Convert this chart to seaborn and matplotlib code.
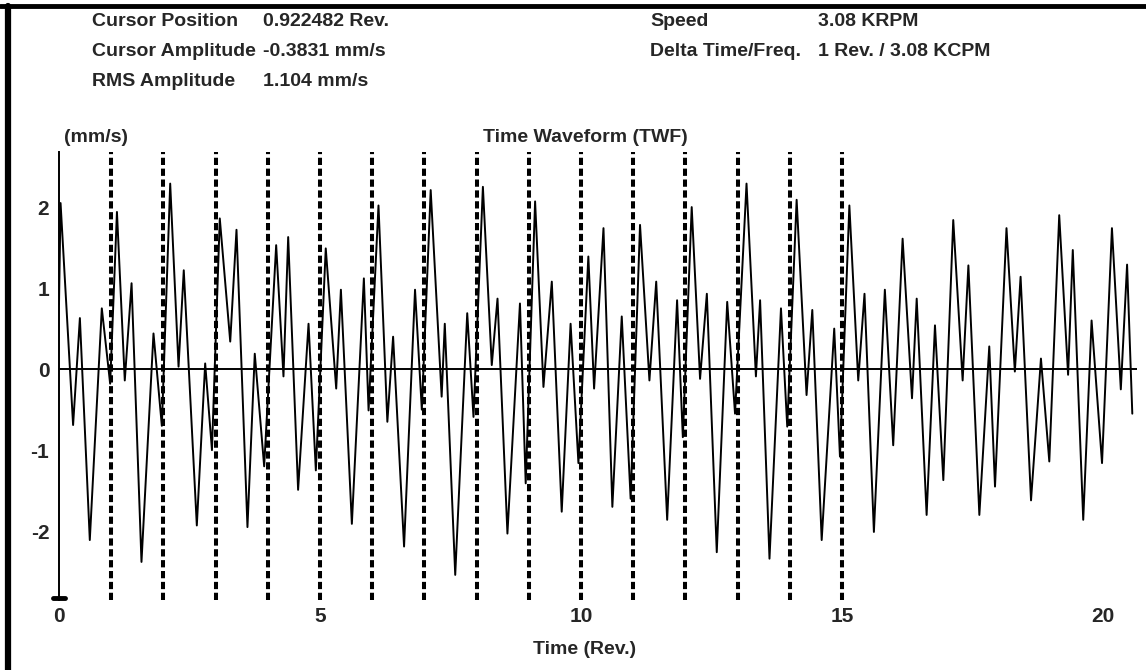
import matplotlib
matplotlib.use("Agg")
import pandas as pd
import matplotlib.pyplot as plt
import seaborn as sns
from matplotlib.lines import Line2D

# Turning points of the trace (time in rev, velocity in mm/s)
REV = [0.00, 0.03, 0.27, 0.40, 0.59, 0.82, 0.98, 1.11, 1.26, 1.39, 1.58, 1.81, 1.97,
       2.13, 2.29, 2.39, 2.64, 2.80, 2.93, 3.08, 3.28, 3.40, 3.61, 3.75, 3.93,
       4.16, 4.30, 4.39, 4.58, 4.78, 4.92, 5.11, 5.31, 5.40, 5.61, 5.84, 5.93,
       6.12, 6.29, 6.40, 6.61, 6.82, 6.95, 7.12, 7.33, 7.39, 7.59, 7.82, 7.94,
       8.12, 8.29, 8.40, 8.59, 8.83, 8.94, 9.12, 9.28, 9.44, 9.63, 9.80, 9.95,
       10.14, 10.25, 10.43, 10.60, 10.78, 10.95, 11.13, 11.31, 11.44, 11.65, 11.84, 11.95,
       12.12, 12.28, 12.41, 12.60, 12.80, 12.95, 13.17, 13.35, 13.43, 13.61, 13.83, 13.95,
       14.13, 14.32, 14.43, 14.61, 14.85, 14.96, 15.14, 15.31, 15.43, 15.61, 15.82, 15.98,
       16.16, 16.34, 16.43, 16.62, 16.78, 16.94, 17.13, 17.31, 17.42, 17.63, 17.82, 17.93,
       18.15, 18.31, 18.42, 18.62, 18.81, 18.97, 19.16, 19.33, 19.42, 19.62, 19.78, 19.98,
       20.17, 20.34, 20.46, 20.56]
VEL = [0.80, 2.05, -0.69, 0.63, -2.11, 0.75, -0.18, 1.94, -0.14, 1.06, -2.38, 0.44, -0.70,
       2.29, 0.03, 1.22, -1.93, 0.07, -1.00, 1.86, 0.34, 1.72, -1.95, 0.19, -1.20,
       1.53, -0.09, 1.63, -1.49, 0.56, -1.25, 1.49, -0.24, 0.98, -1.91, 1.12, -0.51,
       2.02, -0.65, 0.40, -2.19, 0.98, -0.50, 2.21, -0.34, 0.56, -2.54, 0.69, -0.59,
       2.25, 0.05, 0.87, -2.03, 0.81, -1.41, 2.07, -0.22, 1.08, -1.76, 0.56, -1.16,
       1.39, -0.24, 1.74, -1.70, 0.65, -1.60, 1.78, -0.14, 1.08, -1.86, 0.85, -0.84,
       2.00, -0.12, 0.93, -2.26, 0.83, -0.55, 2.29, -0.09, 0.85, -2.34, 0.75, -0.71,
       2.09, -0.32, 0.73, -2.11, 0.50, -1.08, 2.02, -0.14, 0.93, -2.01, 0.98, -0.94,
       1.61, -0.36, 0.87, -1.80, 0.54, -1.37, 1.84, -0.14, 1.28, -1.80, 0.28, -1.45,
       1.74, -0.03, 1.14, -1.62, 0.13, -1.14, 1.90, -0.07, 1.47, -1.86, 0.60, -1.16,
       1.74, -0.25, 1.29, -0.55]

CURSOR_REVS = list(range(1, 16))
X_TICKS = list(range(0, 21))
X_TICK_LABELS = [str(t) if t % 5 == 0 else "" for t in X_TICKS]
Y_TICKS = [-2, -1, 0, 1, 2]

HEADER_LEFT = [("Cursor Position", "0.922482 Rev."),
               ("Cursor Amplitude", "-0.3831 mm/s"),
               ("RMS Amplitude", "1.104 mm/s")]
HEADER_RIGHT = [("Speed", "3.08 KRPM"),
                ("Delta Time/Freq.", "1 Rev. / 3.08 KCPM")]

W, H = 1146, 670
FS = 14


def px(x, y):
    '''pixel position -> figure fraction'''
    return x / W, 1 - y / H


sns.set_style("white")
plt.rcParams["font.family"] = ["Liberation Sans", "DejaVu Sans"]
plt.rcParams["font.weight"] = "bold"

df = pd.DataFrame({"rev": REV, "vel": VEL})

fig = plt.figure(figsize=(W / 100, H / 100), dpi=100)
ax = fig.add_axes([59 / W, 1 - 600 / H, (1137 - 59) / W, (600 - 152) / H])

sns.lineplot(data=df, x="rev", y="vel", ax=ax, color="black", linewidth=1.4,
             estimator=None, sort=False, zorder=3)
ax.axhline(0, color="black", linewidth=1.4, zorder=2)
for r in CURSOR_REVS:
    ax.axvline(r, color="black", linewidth=2.9, linestyle=(0, (1.8, 0.9)), zorder=4)

ax.set_xlim(0, 20.65)
ax.set_ylim(-2.85, 2.68)
ax.set_xticks(X_TICKS)
ax.set_xticklabels(X_TICK_LABELS)
ax.set_yticks(Y_TICKS)
ax.set_yticklabels([str(t) for t in Y_TICKS])
ax.tick_params(axis="x", direction="in", length=15, width=4, pad=5, labelsize=FS + 1)
ax.tick_params(axis="y", direction="out", length=5, width=1.3, pad=2, labelsize=FS + 1)
ax.set_xlabel("")
ax.set_ylabel("")

for side in ["top", "right", "bottom"]:
    ax.spines[side].set_visible(False)
ax.spines["left"].set_linewidth(1.4)
ax.spines["left"].set_color("black")

# little foot under the amplitude axis
fig.add_artist(Line2D([53 / W, 65 / W], [1 - 598 / H, 1 - 598 / H], color="black", linewidth=3.5))

fig.text(*px(585, 650), "Time (Rev.)", ha="center", va="center", fontsize=FS)
fig.text(*px(585, 137), "Time Waveform (TWF)", ha="center", va="center", fontsize=FS)
fig.text(*px(64, 137), "(mm/s)", ha="left", va="center", fontsize=FS)

for i, (name, val) in enumerate(HEADER_LEFT):
    fig.text(*px(92, 22 + 30 * i), name, ha="left", va="center", fontsize=FS)
    fig.text(*px(263, 22 + 30 * i), val, ha="left", va="center", fontsize=FS)
for i, (name, val) in enumerate(HEADER_RIGHT):
    fig.text(*px(650, 22 + 30 * i), name, ha="left", va="center", fontsize=FS)
    fig.text(*px(818, 22 + 30 * i), val, ha="left", va="center", fontsize=FS)

# screen frame: top and left edges
fig.add_artist(Line2D([0, 1], [1 - 6 / H, 1 - 6 / H], color="black", linewidth=3.5))
fig.add_artist(Line2D([8 / W, 8 / W], [0, 1 - 6 / H], color="black", linewidth=4.5))

fig.savefig("out.png", dpi=100)
